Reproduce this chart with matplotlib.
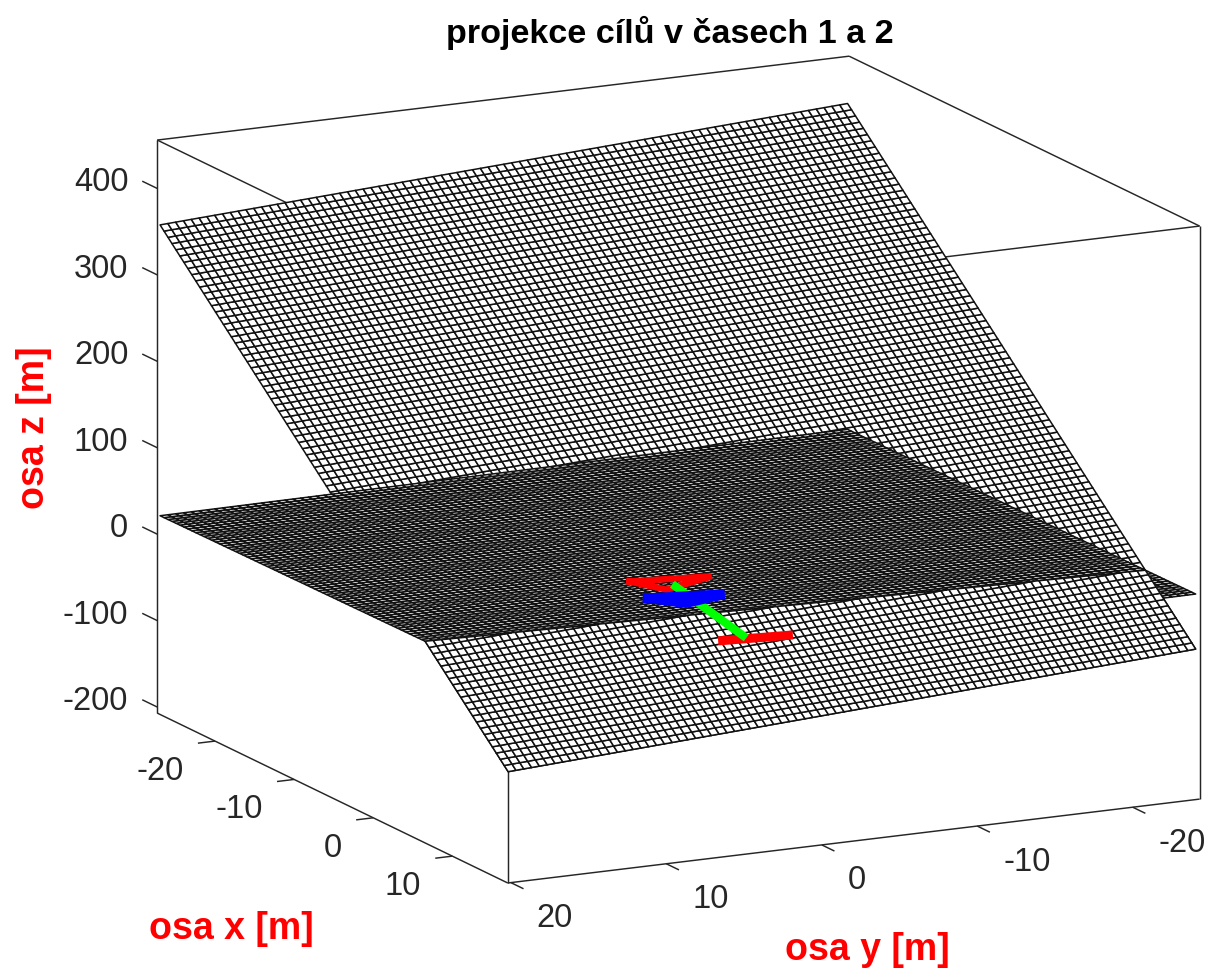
import numpy as np
import matplotlib
matplotlib.use("Agg")
import matplotlib.pyplot as plt
from mpl_toolkits.mplot3d import proj3d
from mpl_toolkits.mplot3d.art3d import Poly3DCollection

plt.rcParams['font.family'] = ['Liberation Sans', 'DejaVu Sans']

# --- data -----------------------------------------------------------------
title_text = "projekce cílů v časech 1 a 2"
xlabel_text = "osa x [m]"
ylabel_text = "osa y [m]"
zlabel_text = "osa z [m]"

x_limits = (-27.3, 17.0)
y_limits = (-24.3, 20.2)
z_limits = (-207.0, 456.0)
x_ticks = [-20, -10, 0, 10]
y_ticks = [-20, -10, 0, 10, 20]
z_ticks = [-200, -100, 0, 100, 200, 300, 400]

grid_x = np.arange(-27.2, 16.81, 0.5)
grid_y = np.arange(-24.15, 20.08, 0.5025)

# plane heights at corners: (xmin,ymin), (xmin,ymax), (xmax,ymin), (xmax,ymax)
sloped_corners = [402.0, 358.0, -34.0, -79.4]
flat_corners = [25.0, 21.5, 29.7, 26.0]

# target projections in the plane z = 0
red_top_x = [-5.50, -4.50, -2.85, -5.50]
red_top_y = [0.92, -3.85, -0.12, 0.92]
red_low_x = [9.15, 9.79]
red_low_y = [2.67, -1.81]
blue_x = [-1.55, -0.45, 0.45, -1.55]
blue_y = [1.75, -2.62, 0.32, 1.75]
green_x = [-3.85, 9.24]
green_y = [-1.00, 0.91]


def plane(corners, X, Y):
    u = (X - grid_x[0]) / (grid_x[-1] - grid_x[0])
    v = (Y - grid_y[0]) / (grid_y[-1] - grid_y[0])
    c00, c01, c10, c11 = corners
    return (c00 * (1 - u) * (1 - v) + c01 * (1 - u) * v
            + c10 * u * (1 - v) + c11 * u * v)


def near_cells(X, Y, Zs, Zf):
    """Cells of the sloped plane on the camera side of the flat plane, clipped."""
    out = []
    d = Zs - Zf
    for i in range(X.shape[0] - 1):
        for j in range(X.shape[1] - 1):
            idx = [(i, j), (i + 1, j), (i + 1, j + 1), (i, j + 1)]
            ds = [d[k] for k in idx]
            if min(ds) > 0:
                continue
            pts = [(X[k], Y[k], Zs[k]) for k in idx]
            poly = []
            for a in range(4):
                b = (a + 1) % 4
                if ds[a] <= 0:
                    poly.append(pts[a])
                if (ds[a] <= 0) != (ds[b] <= 0):
                    t = ds[a] / (ds[a] - ds[b])
                    poly.append(tuple(pts[a][m] + t * (pts[b][m] - pts[a][m])
                                      for m in range(3)))
            if len(poly) >= 3:
                out.append(poly)
    return out


# --- figure ---------------------------------------------------------------
W, H = 1222, 972
fig = plt.figure(figsize=(W / 100, H / 100), dpi=100, facecolor='white')
S = 1400
ax = fig.add_axes([-40.5 / W, -216.5 / H, S / W, S / H], projection='3d',
                  computed_zorder=False, proj_type='ortho')
ax.set_box_aspect((784, 774, 591), zoom=0.8664)
ax.view_init(elev=-14.03, azim=-153.43)
ax.set_axis_off()

X, Y = np.meshgrid(grid_x, grid_y, indexing='ij')
Zs = plane(sloped_corners, X, Y)
Zf = plane(flat_corners, X, Y)

mesh_lw = 1.1
mesh = dict(color='white', edgecolor='#111111', linewidth=mesh_lw, shade=False,
            rstride=1, cstride=1, antialiased=True)
ax.plot_surface(X, Y, Zs, zorder=3, **mesh)
ax.plot_surface(X, Y, Zf, zorder=4, **mesh)
ax.add_collection3d(Poly3DCollection(near_cells(X, Y, Zs, Zf), facecolors='white',
                                     edgecolors='#111111', linewidths=mesh_lw, zorder=5),
                    autolim=False)

ax.set_xlim(*x_limits)
ax.set_ylim(*y_limits)
ax.set_zlim(*z_limits)

# box edges that are visible
x0, x1 = x_limits
y0, y1 = y_limits
z0, z1 = z_limits
edge = dict(color='#262626', lw=1.05, zorder=1, solid_capstyle='butt')
for p, q in [((x0, y1, z1), (x0, y0, z1)), ((x0, y0, z1), (x1, y0, z1)),
             ((x1, y0, z1), (x1, y1, z1)), ((x1, y1, z1), (x0, y1, z1)),
             ((x0, y1, z0), (x0, y1, z1)), ((x1, y0, z0), (x1, y0, z1)),
             ((x1, y1, z0), (x1, y1, z1)), ((x0, y1, z0), (x1, y1, z0)),
             ((x1, y1, z0), (x1, y0, z0))]:
    ax.plot(*zip(p, q), **edge)

# ticks
for z in z_ticks:
    ax.plot([x0, x0 - 1.9], [y1, y1], [z, z], **edge)
for x in x_ticks:
    ax.plot([x, x], [y1, y1 + 1.1], [z0, z0], **edge)
for y in y_ticks:
    ax.plot([x1, x1 + 1.6], [y, y], [z0, z0], **edge)

# target projections
ax.plot(red_top_x, red_top_y, 0 * np.array(red_top_x), color='#ff0000', lw=4.6, zorder=6,
        solid_joinstyle='miter')
ax.plot(red_low_x, red_low_y, [0, 0], color='#ff0000', lw=6.5, zorder=7, solid_capstyle='butt')
ax.plot(green_x, green_y, [0, 0], color='#00ff00', lw=6.0, zorder=8, solid_capstyle='butt')
ax.plot(blue_x, blue_y, 0 * np.array(blue_x), color='#0000ff', lw=7.0, zorder=9,
        solid_joinstyle='miter')


# tick labels
M = ax.get_proj()
tick_font = dict(fontsize=23.5, color='#262626', annotation_clip=False, xycoords='data',
                 textcoords='offset pixels')


def label(txt, pt, off, ha):
    px, py, _ = proj3d.proj_transform(*pt, M)
    ax.annotate(txt, xy=(px, py), xytext=off, ha=ha, va='center', **tick_font)


for z in z_ticks:
    label(str(z), (x0, y1, z), (-29, 5.5), 'right')
for x in x_ticks:
    label(str(x), (x, y1, z0), (-31, -30.5), 'right')
for y in y_ticks:
    label(str(y), (x1, y, z0), (26, -36), 'left')

fig.text(669.5 / W, 1 - 33 / H, title_text, fontsize=24.6, fontweight='bold', color='black',
         ha='center', va='center')
fig.text(231 / W, 1 - 929 / H, xlabel_text, fontsize=27, fontweight='bold', color='#ff0000',
         ha='center', va='center')
fig.text(867 / W, 1 - 950 / H, ylabel_text, fontsize=27, fontweight='bold', color='#ff0000',
         ha='center', va='center')
fig.text(34 / W, 1 - 428 / H, zlabel_text, fontsize=27, fontweight='bold', color='#ff0000',
         ha='center', va='center', rotation=90)

fig.savefig('out.png', dpi=100)
